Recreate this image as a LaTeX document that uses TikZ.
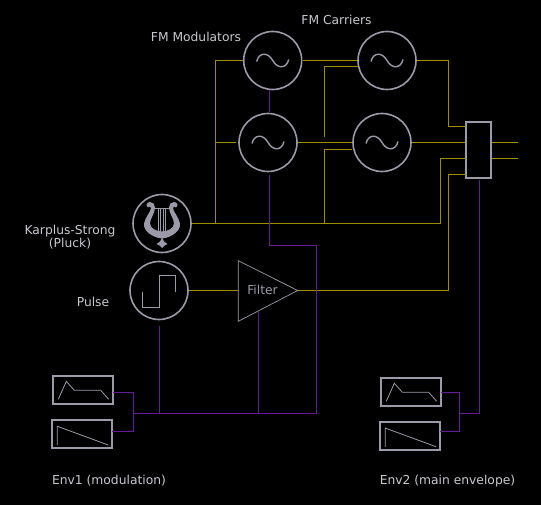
\documentclass[tikz,border=0pt]{standalone}
\usepackage{fontspec}
\setmainfont{DejaVu Sans}
\definecolor{gold}{HTML}{A08C00}
\definecolor{violet}{HTML}{66189A}
\definecolor{lilac}{HTML}{9C9AA8}
\definecolor{labelgrey}{HTML}{C8C8D0}
\tikzset{
  osc/.style={draw=lilac, circle, line width=1.6pt, minimum size=58pt, inner sep=0pt},
  envbox/.style={draw=lilac, rectangle, line width=1.8pt, minimum width=60pt, minimum height=28pt, inner sep=0pt},
  audio/.style={draw=gold, line width=1pt},
  cv/.style={draw=violet, line width=1pt},
  glyph/.style={draw=lilac, line width=0.8pt},
  caption/.style={text=labelgrey, font=\fontsize{12.3}{13}\selectfont, align=center, inner sep=0pt}
}
\begin{document}
\begin{tikzpicture}[x=1pt,y=-1pt]
\fill[black] (0,0) rectangle (541,505);
\useasboundingbox (0,0) rectangle (541,505);
\node[osc] (modA) at (272.7,60.5) {};
\node[osc] (modB) at (268,142.5) {};
\node[osc] (carA) at (387,60.5) {};
\node[osc] (carB) at (382,142.5) {};
\node[osc] (pluck) at (162,223.5) {};
\node[osc] (pulse) at (159,290.5) {};
\node[draw=lilac, line width=2pt, minimum width=24.5pt, minimum height=56.5pt, inner sep=0pt] (mix) at (478.7,150) {};
\node[text=lilac, font=\fontsize{12.3}{13}\selectfont, inner sep=0pt] (filterlabel) at (262.5,289.5) {Filter};
\node[envbox] (envAa) at (83,389.8) {};
\node[envbox] (envAb) at (82,434.2) {};
\node[envbox] (envBa) at (411,391.8) {};
\node[envbox] (envBb) at (410,436) {};
\node[caption] (modlabel) at (196,36.5) {FM Modulators};
\node[caption] (carlabel) at (336.5,20) {FM Carriers};
\node[caption] (pluckA) at (70,237) {Karplus-Strong\\(Pluck)};
\node[caption] (pulselabel) at (93,302) {Pulse};
\node[caption] (envAlabel) at (109,481) {Env1 (modulation)};
\node[caption] (envBlabel) at (447.5,481) {Env2 (main envelope)};
% filter outline
\coordinate (filtertop) at (238.3,260.7);
\coordinate (filterapex) at (297.7,290.5);
\coordinate (filterlow) at (238.3,321.3);
\draw[lilac, line width=0.7pt] (filtertop) -- (filterapex) -- (filterlow) -- cycle;
% audio wiring
\coordinate (busL) at (215.5,223.5);
\coordinate (busM) at (324.5,223.5);
\coordinate (inA) at (465.7,126.5);
\coordinate (inC) at (465.7,158.5);
\coordinate (inD) at (465.7,174.5);
\coordinate (outA) at (518,142.5);
\coordinate (outB) at (518,158.5);
\coordinate (fmA) at (358,66.5);
\coordinate (fmAend) at (324.5,137.5);
\coordinate (fmB) at (352,149.5);
\coordinate (fmBend) at (324.5,149.5);
\coordinate (filterin) at (238.3,290.5);
\draw[audio] (modA.east) -- (carA.west);
\draw[audio] (modA.west) -| (busL);
\draw[audio, shorten >=2pt] (busL |- modB.west) -- (modB.west);
\draw[audio] (pluck.east) -- (440.5,223.5) |- (inC);
\draw[audio] (busM) -- (fmBend) -- (fmB);
\draw[audio] (fmAend) |- (fmA);
\draw[audio] (modB.east) -- (carB.west);
\draw[audio] (carA.east) -- (448.5,60.5) |- (inA);
\draw[audio] (carB.east) -- (mix.west |- carB.east);
\draw[audio] (pulse.east) -- (filterin);
\draw[audio] (filterapex) -- (448.5,290.5) |- (inD);
\draw[audio] (mix.east |- outA) -- (outA);
\draw[audio] (mix.east |- outB) -- (outB);
% modulation wiring
\coordinate (cvtop) at (269.5,90);
\coordinate (cvmid) at (269.5,112);
\coordinate (cvlow) at (269.5,175);
\coordinate (cvbend) at (269.5,245.5);
\coordinate (busA) at (133.5,413.5);
\coordinate (busAend) at (316.5,413.5);
\coordinate (pulsecv) at (159.5,323);
\coordinate (filtercv) at (258.5,311);
\coordinate (busB) at (459.5,413.5);
\coordinate (mixcv) at (479.5,180);
\coordinate (envAaout) at (113.3,392.5);
\coordinate (envAbout) at (112.3,431.5);
\coordinate (envBaout) at (441.3,392.5);
\coordinate (envBbout) at (440.3,431.5);
\draw[cv] (cvtop) -- (cvmid);
\draw[cv] (cvlow) -- (cvbend) -| (busAend) -- (busA);
\draw[cv] (envAaout) -| (busA) |- (envAbout);
\draw[cv, shorten <=3pt] (pulsecv) -- (pulsecv |- busA);
\draw[cv] (filtercv) -- (filtercv |- busA);
\draw[cv] (envBaout) -| (busB) |- (envBbout);
\draw[cv] (busB) -| (mixcv);
% glyphs
\foreach \osc in {modA,modB,carA,carB}
  \draw[glyph, line width=1.4pt, shift={(\osc.center)}] (-16,1) .. controls (-14,-8) and (-5,-9) .. (0,0) .. controls (5,9) and (14,8) .. (16,-1);
\draw[glyph] (142.3,291.7) -- (142.3,307.3) -- (159.3,307.3) -- (159.3,275.3) -- (175.7,275.3) -- (175.7,291.7);
\foreach \env in {envAa,envBa}
  \draw[glyph, shift={(\env.center)}] (-24.7,9.5) -- (-16.7,-8.5) -- (-8.7,0.5) -- (17.7,0.5) -- (25.7,9.5);
\foreach \env in {envAb,envBb}
  \draw[glyph, shift={(\env.center)}] (-24.7,10.8) -- (-24.7,-7.9) -- (26.3,10.8);
% lyre
\foreach \side in {1,-1} {
  \fill[lilac, shift={(pluck.center)}, xscale=\side] (0,15) .. controls (-10,14) and (-19,7) .. (-18,0) .. controls (-17,-6) and (-11,-12) .. (-11,-15.5) .. controls (-11,-18) and (-13,-17) .. (-14,-16) .. controls (-17,-18) and (-15,-21.5) .. (-12,-21.5) .. controls (-9,-21.5) and (-7,-19) .. (-7,-16) .. controls (-7,-10) and (-12,-5) .. (-12,0) .. controls (-12,5) and (-5,8) .. (0,8) -- cycle;
  \fill[lilac, shift={(pluck.center)}, xscale=\side] (0,14) -- (-2,18) -- (-5.5,20.5) -- (-2.5,22) -- (0,24.5) -- cycle;
  \draw[glyph, shift={(pluck.center)}, xscale=\side] (-8,-15.5) -- (0,-15.5) (-1.2,-15.5) -- (-1.2,9) (-3.6,-15.5) -- (-3.6,8);
}
\end{tikzpicture}
\end{document}
